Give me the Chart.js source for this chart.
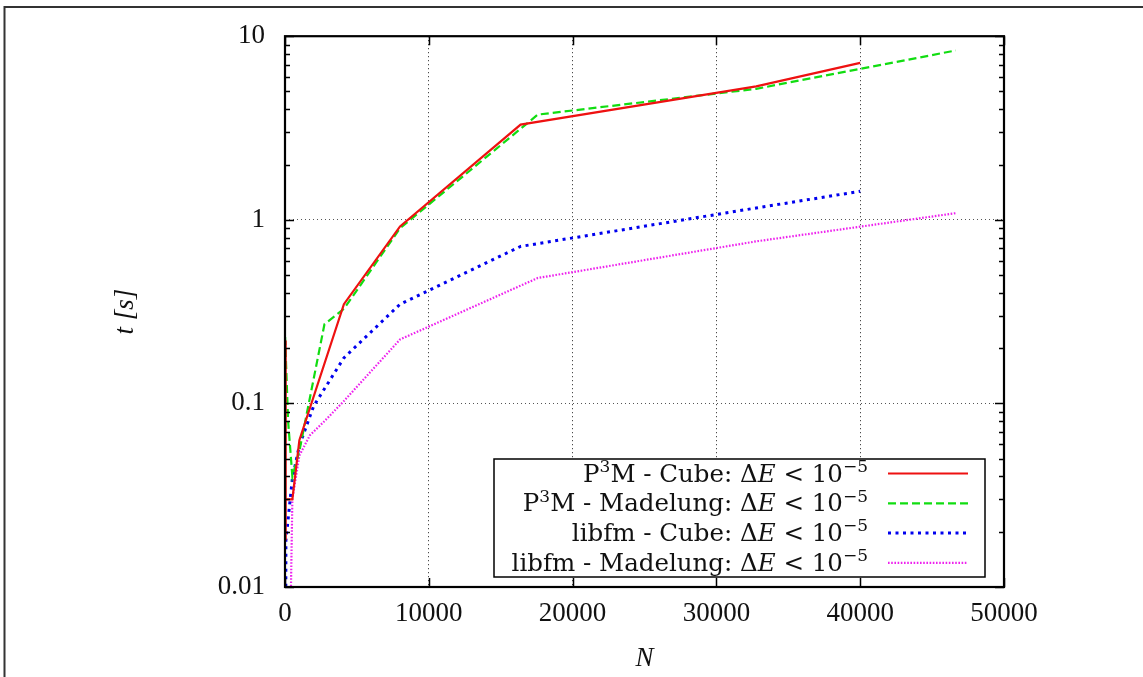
<!DOCTYPE html>
<html>
<head>
<meta charset="utf-8">
<script src="https://cdn.jsdelivr.net/npm/chart.js@4.4.0/dist/chart.umd.min.js"></script>
<style>
  html, body { margin: 0; padding: 0; background: #fff; }
  #wrap { position: relative; width: 1143px; height: 677px; }
</style>
</head>
<body>
<div id="wrap"><canvas id="myChart"></canvas></div>
<script>
// timings t [s] against particle count N
const seriesNames = ['P^3M - Cube', 'P^3M - Madelung', 'libfm - Cube', 'libfm - Madelung'];
const seriesColors = ['#ee1111', '#11dd11', '#0000ee', '#ee22ee'];

const p3mCubeN = [8, 27, 64, 512, 1000, 4096, 8000, 16384, 32768, 40000];
const p3mCubeT = [0.22, 0.018, 0.03, 0.03, 0.063, 0.347, 0.92, 3.3, 5.33, 7.16];

const p3mMadN = [8, 216, 512, 1000, 2744, 4096, 8000, 17576, 32768, 46656];
const p3mMadT = [0.23, 0.08, 0.04, 0.055, 0.27, 0.327, 0.9, 3.74, 5.17, 8.36];

const libfmCubeN = [8, 64, 512, 1000, 2000, 4096, 8000, 16384, 32768, 40000];
const libfmCubeT = [0.0001, 0.018, 0.039, 0.059, 0.097, 0.177, 0.347, 0.716, 1.16, 1.43];

const libfmMadN = [8, 512, 1000, 1728, 2744, 4096, 8000, 17576, 32768, 46656];
const libfmMadT = [0.0001, 0.03, 0.052, 0.067, 0.08, 0.103, 0.223, 0.482, 0.763, 1.087];

const xTicks = [0, 10000, 20000, 30000, 40000, 50000];
const yTicks = [0.01, 0.1, 1, 10];
const xGridAt = [10000, 20000, 30000, 40000];
const yGridAt = [0.1, 1];

const serif = "'Liberation Serif', 'DejaVu Serif', serif";
const legendSerif = "'DejaVu Serif', 'Liberation Serif', serif";

function points(ns, ts) {
  return ns.map((n, i) => ({ x: n, y: ts[i] }));
}

function plainLabel(name) {
  return name.replace('^3', '\u00b3');
}

// label pieces: superscripts and the italic E
function richParts(name) {
  const parts = [];
  name.split(/\^(\d)/).forEach((s, i) => parts.push({ text: s, sup: i % 2 === 1 }));
  parts.push({ text: ': \u0394' }, { text: 'E', italic: true }, { text: ' < 10' }, { text: '\u22125', sup: true });
  return parts;
}

const dashes = [[], [8, 4], [3, 4.5], [1.6, 1.6]];
const widths = [2.2, 2.2, 3, 2.2];
const allN = [p3mCubeN, p3mMadN, libfmCubeN, libfmMadN];
const allT = [p3mCubeT, p3mMadT, libfmCubeT, libfmMadT];

const datasets = seriesNames.map((name, i) => ({
  label: plainLabel(name),
  data: points(allN[i], allT[i]),
  borderColor: seriesColors[i],
  borderWidth: widths[i],
  borderDash: dashes[i],
  pointRadius: 0,
  fill: false,
  tension: 0
}));

const framePlugin = {
  id: 'frame',
  beforeDraw(chart) {
    const ctx = chart.ctx;
    ctx.save();
    ctx.strokeStyle = '#333';
    ctx.lineWidth = 2;
    ctx.beginPath();
    ctx.moveTo(4.5, 677);
    ctx.lineTo(4.5, 7);
    ctx.lineTo(1143, 7);
    ctx.stroke();
    ctx.restore();
  },
  afterDatasetsDraw(chart) {
    const { ctx, chartArea: a, scales } = chart;
    const x = scales.x, y = scales.y;
    ctx.save();
    ctx.strokeStyle = '#000';
    ctx.lineWidth = 1.5;
    ctx.beginPath();
    // x ticks, bottom and top, pointing inwards
    xTicks.forEach(v => {
      const px = Math.round(x.getPixelForValue(v)) + 0.5;
      ctx.moveTo(px, a.bottom); ctx.lineTo(px, a.bottom - 9);
      ctx.moveTo(px, a.top); ctx.lineTo(px, a.top + 9);
    });
    // y ticks with log minor marks
    for (let d = 0; d < yTicks.length; d++) {
      const base = yTicks[d];
      const major = Math.round(y.getPixelForValue(base)) + 0.5;
      ctx.moveTo(a.left, major); ctx.lineTo(a.left + 9, major);
      ctx.moveTo(a.right, major); ctx.lineTo(a.right - 9, major);
      if (d === yTicks.length - 1) break;
      for (let k = 2; k <= 9; k++) {
        const py = Math.round(y.getPixelForValue(base * k)) + 0.5;
        ctx.moveTo(a.left, py); ctx.lineTo(a.left + 5, py);
        ctx.moveTo(a.right, py); ctx.lineTo(a.right - 5, py);
      }
    }
    ctx.stroke();
    ctx.lineWidth = 2.2;
    ctx.strokeRect(a.left, a.top, a.right - a.left, a.bottom - a.top);
    ctx.restore();

    drawLegend(chart);
  }
};

function drawLegend(chart) {
  const ctx = chart.ctx;
  const box = { left: 494, top: 459, right: 985, bottom: 577 };
  const rows = [473.5, 503.3, 533, 562.8];
  const size = 24.5;
  ctx.save();
  ctx.fillStyle = '#fff';
  ctx.fillRect(box.left, box.top, box.right - box.left, box.bottom - box.top);
  ctx.strokeStyle = '#000';
  ctx.lineWidth = 1.5;
  ctx.strokeRect(box.left, box.top, box.right - box.left, box.bottom - box.top);

  chart.data.datasets.forEach((ds, i) => {
    const parts = richParts(seriesNames[i]);
    const fontFor = p => (p.italic ? 'italic ' : '') + (p.sup ? Math.round(size * 0.7) : size) + 'px ' + legendSerif;
    let total = 0;
    parts.forEach(p => { ctx.font = fontFor(p); total += ctx.measureText(p.text).width; });
    let cx = 868 - total;
    const base = rows[i] + 8;
    ctx.fillStyle = '#111';
    ctx.textAlign = 'left';
    ctx.textBaseline = 'alphabetic';
    parts.forEach(p => {
      ctx.font = fontFor(p);
      ctx.fillText(p.text, cx, p.sup ? base - size * 0.4 : base);
      cx += ctx.measureText(p.text).width;
    });

    ctx.strokeStyle = ds.borderColor;
    ctx.lineWidth = ds.borderWidth;
    ctx.setLineDash(ds.borderDash);
    ctx.beginPath();
    ctx.moveTo(888, rows[i]);
    ctx.lineTo(968, rows[i]);
    ctx.stroke();
    ctx.setLineDash([]);
  });
  ctx.restore();
}

const ctx = document.getElementById('myChart');

new Chart(ctx, {
  type: 'line',
  data: { datasets: datasets },
  options: {
    responsive: true,
    maintainAspectRatio: false,
    animation: false,
    layout: { padding: { top: 34, right: 139, left: 0, bottom: 0 } },
    plugins: {
      legend: { display: false },
      tooltip: { enabled: false }
    },
    scales: {
      x: {
        type: 'linear',
        min: 0,
        max: 50000,
        afterBuildTicks: scale => { scale.ticks = xTicks.map(v => ({ value: v })); },
        afterFit: scale => { scale.height = 90; },
        ticks: {
          color: '#111',
          padding: 11,
          maxRotation: 0,
          font: { family: serif, size: 27 },
          callback: v => String(v)
        },
        grid: {
          drawTicks: false,
          lineWidth: 1,
          color: c => (xGridAt.includes(c.tick && c.tick.value) ? '#222' : 'rgba(0,0,0,0)')
        },
        border: { display: false, dash: [1, 3] },
        title: {
          display: true,
          text: 'N',
          color: '#111',
          font: { family: serif, size: 27, style: 'italic' },
          padding: { top: 0, bottom: 2 }
        }
      },
      y: {
        type: 'logarithmic',
        min: 0.01,
        max: 10,
        afterBuildTicks: scale => { scale.ticks = yTicks.map(v => ({ value: v })); },
        afterFit: scale => { scale.width = 285; },
        ticks: {
          color: '#111',
          padding: 20,
          font: { family: serif, size: 27 },
          callback: v => String(v)
        },
        grid: {
          drawTicks: false,
          lineWidth: 1,
          color: c => (yGridAt.includes(c.tick && c.tick.value) ? '#555' : 'rgba(0,0,0,0)')
        },
        border: { display: false, dash: [1, 3] },
        title: {
          display: true,
          text: 't [s]',
          color: '#111',
          font: { family: serif, size: 27, style: 'italic' },
          padding: { top: 110, bottom: 0 }
        }
      }
    }
  },
  plugins: [framePlugin]
});
</script>
</body>
</html>
